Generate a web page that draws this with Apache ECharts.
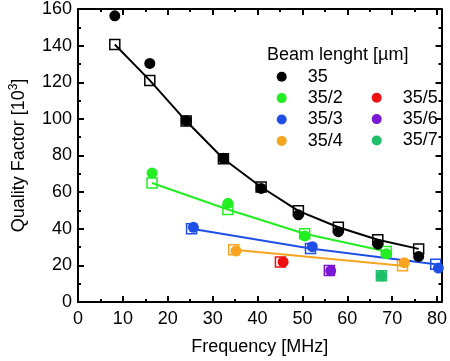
<!DOCTYPE html>
<html>
<head>
<meta charset="utf-8">
<script src="https://cdn.jsdelivr.net/npm/echarts@6/dist/echarts.min.js"></script>
<style>html,body{margin:0;padding:0;background:#fff}#c{width:450px;height:361px}</style>
</head>
<body>
<div id="c"></div>
<script>
// Measured quality factors [10^3] vs frequency [MHz] (circles)
const meas35   = [[8.2,156.3],[16,130.3],[24.1,99],[32.4,78.5],[40.8,62],[49.1,47.6],[58,38.4],[66.8,31.6],[75.9,24.9]];
const meas35_2 = [[16.5,70.4],[33.4,53.9],[50.5,36.1],[68.7,26.3]];
const meas35_3 = [[25.7,40.8],[52.2,30.2],[80.3,18.5]];
const meas35_4 = [[35.2,27.9],[72.7,21.5]];
const meas35_5 = [[45.7,21.9]];
const meas35_6 = [[56.3,17]];
const meas35_7 = [[67.6,14.2]];
// Model values (open squares, joined by lines)
const model35   = [[8.2,140.6],[16,121],[24.1,98.8],[32.4,78.2],[40.8,62.8],[49.1,49.8],[58,40.8],[66.8,34],[75.9,29]];
const model35_2 = [[16.5,65],[33.4,50.5],[50.5,37.3],[68.7,27.6]];
const model35_3 = [[25.3,40],[51.8,29.2],[79.7,20.6]];
const model35_4 = [[34.7,28.5],[72.3,19.8]];
const model35_5 = [[45.1,21.8]];
const model35_6 = [[56,17.2]];
const model35_7 = [[67.6,14.4]];

const names  = ['35','35/2','35/3','35/4','35/5','35/6','35/7'];
const colors = ['#000000','#22ee22','#1f4fe6','#f7a520','#ee1111','#7a18d6','#1fbf6a'];
const measAll  = [meas35,meas35_2,meas35_3,meas35_4,meas35_5,meas35_6,meas35_7];
const modelAll = [model35,model35_2,model35_3,model35_4,model35_5,model35_6,model35_7];

const xTicks = [0,10,20,30,40,50,60,70,80];
const yTicks = [0,20,40,60,80,100,120,140,160];

const FONT = 'Liberation Sans, Arial, sans-serif';
const axisCommon = {
  axisLine:{show:true,onZero:false,lineStyle:{color:'#000',width:2}},
  axisTick:{show:true,inside:true,length:6,lineStyle:{color:'#000',width:2}},
  minorTick:{show:true,splitNumber:2,length:3,lineStyle:{color:'#000',width:2}},
  splitLine:{show:false},
  minorSplitLine:{show:false}
};

const series = [];
modelAll.forEach((d,i)=>{
  series.push({
    type:'line', name:names[i]+' model', data:d,
    smooth:false,
    symbol:'rect', symbolSize:10, showAllSymbol:true,
    lineStyle:{color:colors[i],width:2,join:'round'},
    itemStyle:{color:'rgba(255,255,255,0)',borderColor:colors[i],borderWidth:1.5},
    z:2, animation:false
  });
});
measAll.forEach((d,i)=>{
  series.push({
    type:'scatter', name:names[i], data:d,
    symbol:'circle', symbolSize:11,
    itemStyle:{color:colors[i],opacity:1},
    z:3, animation:false
  });
});

const legendCommon = {
  orient:'vertical', padding:0, itemGap:3.4, itemWidth:10, itemHeight:10, icon:'circle',
  selectedMode:false,
  textStyle:{fontFamily:FONT,fontSize:18,color:'#000',lineHeight:18,padding:[0,0,0,16]}
};

const chart = echarts.init(document.getElementById('c'),null,{renderer:'canvas'});
chart.setOption({
  animation:false,
  backgroundColor:'#fff',
  title:{text:'Beam lenght [µm]',left:267,top:46,padding:0,
    textStyle:{fontFamily:FONT,fontSize:18,fontWeight:'normal',color:'#000'}},
  legend:[
    Object.assign({left:276.7,top:67.7,data:names.slice(0,4)},legendCommon),
    Object.assign({left:371.7,top:88.7,data:names.slice(4)},legendCommon)
  ],
  grid:{left:72.5,right:5,top:6,bottom:55,containLabel:false},
  xAxis:[
    Object.assign({type:'value',position:'bottom',min:0,max:81,interval:10,
      name:'Frequency [MHz]',nameLocation:'middle',nameGap:36,
      nameTextStyle:{fontFamily:FONT,fontSize:18,color:'#000'},
      axisLabel:{fontFamily:FONT,fontSize:18,color:'#000',margin:8,
        formatter:v=>xTicks.includes(v)?String(v):''}},axisCommon),
    Object.assign({type:'value',position:'top',min:0,max:81,interval:10,
      axisLabel:{show:false}},axisCommon)
  ],
  yAxis:[
    Object.assign({type:'value',position:'left',min:0,max:160,interval:20,
      name:'{n|Quality Factor [10}{s|3}{n|]}',nameLocation:'middle',nameGap:48,
      nameTextStyle:{fontFamily:FONT,fontSize:18,color:'#000',
        rich:{n:{fontFamily:FONT,fontSize:18,color:'#000',lineHeight:22},
              s:{fontFamily:FONT,fontSize:12,color:'#000',verticalAlign:'top',lineHeight:22}}},
      axisLabel:{fontFamily:FONT,fontSize:18,color:'#000',margin:6,
        formatter:v=>yTicks.includes(v)?String(v):''}},axisCommon),
    Object.assign({type:'value',position:'right',min:0,max:160,interval:20,
      axisLabel:{show:false}},axisCommon)
  ],
  series:series
});
</script>
</body>
</html>
